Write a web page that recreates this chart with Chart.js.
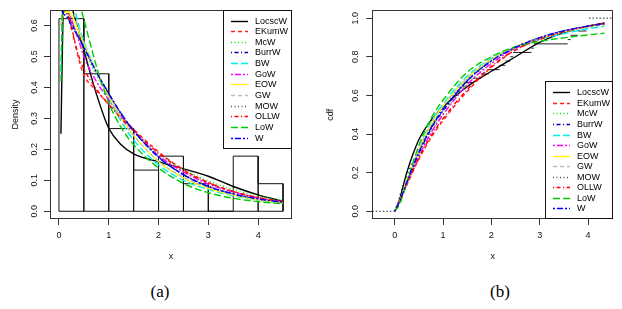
<!DOCTYPE html>
<html>
<head>
<meta charset="utf-8">
<script src="https://cdn.jsdelivr.net/npm/chart.js@4.4.0/dist/chart.umd.min.js"></script>
<style>
  body { margin: 0; background: #fff; }
  #wrap { position: relative; width: 622px; height: 309px; overflow: hidden; }
  canvas { position: absolute; top: 0; }
  #densityChart { left: 0; }
  #cdfChart { left: 310px; }
  .cap { position: absolute; top: 282px; width: 40px; text-align: center;
         font: 17px 'Liberation Serif', 'DejaVu Serif', serif; color: #000; }
</style>
</head>
<body>
<div id="wrap">
  <canvas id="densityChart" width="305" height="270"></canvas>
  <canvas id="cdfChart" width="312" height="270"></canvas>
  <div class="cap" style="left:140px">(a)</div>
  <div class="cap" style="left:480px">(b)</div>
</div>
<script>
// fitted models, in legend order
const models = ['LocscW', 'EKumW', 'McW', 'BurrW', 'BW', 'GoW', 'EOW', 'GW', 'MOW', 'OLLW', 'LoW', 'W'];

// histogram (density scale)
const histBreaks = [0, 0.5, 1, 1.5, 2, 2.5, 3, 3.5, 4, 4.5];
const histDensity = [0.622, 0.444, 0.267, 0.133, 0.178, 0.089, 0, 0.178, 0.089];

// fitted densities
const densX = [0.04, 0.08, 0.15, 0.25, 0.4, 0.5, 0.75, 1, 1.25, 1.5, 2, 2.5, 3, 3.5, 4, 4.5];
const densLocscW = [0.25, 0.62, 0.78, 0.67, 0.58, 0.52, 0.38, 0.268, 0.215, 0.185, 0.16, 0.137, 0.113, 0.08, 0.053, 0.032];
const densEKumW = [0.80, 0.75, 0.68, 0.60, 0.49, 0.44, 0.39, 0.345, 0.305, 0.265, 0.192, 0.135, 0.093, 0.064, 0.044, 0.030];
const densMcW = [0.75, 0.70, 0.66, 0.62, 0.56, 0.52, 0.44, 0.37, 0.31, 0.26, 0.185, 0.135, 0.098, 0.070, 0.050, 0.035];
const densBurrW = [0.70, 0.66, 0.64, 0.61, 0.56, 0.53, 0.45, 0.38, 0.315, 0.26, 0.175, 0.118, 0.080, 0.055, 0.039, 0.028];
const densBW = [0.45, 0.72, 0.75, 0.70, 0.60, 0.55, 0.45, 0.365, 0.29, 0.23, 0.15, 0.10, 0.070, 0.050, 0.036, 0.027];
const densGoW = [0.70, 0.68, 0.66, 0.62, 0.55, 0.50, 0.42, 0.36, 0.305, 0.26, 0.18, 0.127, 0.088, 0.062, 0.043, 0.030];
const densEOW = [0.60, 0.63, 0.645, 0.635, 0.58, 0.54, 0.45, 0.37, 0.30, 0.245, 0.16, 0.108, 0.074, 0.052, 0.037, 0.027];
const densGW = [0.60, 0.66, 0.68, 0.66, 0.59, 0.545, 0.45, 0.37, 0.30, 0.245, 0.162, 0.11, 0.077, 0.054, 0.038, 0.028];
const densMOW = [0.68, 0.66, 0.64, 0.61, 0.56, 0.53, 0.45, 0.38, 0.315, 0.26, 0.176, 0.12, 0.082, 0.057, 0.040, 0.028];
const densOLLW = [0.80, 0.74, 0.66, 0.59, 0.50, 0.46, 0.395, 0.345, 0.30, 0.26, 0.188, 0.132, 0.092, 0.064, 0.044, 0.031];
const densLoW = [0.42, 0.72, 0.80, 0.78, 0.68, 0.62, 0.47, 0.35, 0.27, 0.215, 0.14, 0.09, 0.060, 0.042, 0.031, 0.024];
const densW = [0.66, 0.64, 0.63, 0.60, 0.56, 0.53, 0.45, 0.38, 0.315, 0.26, 0.175, 0.118, 0.080, 0.056, 0.040, 0.029];

const obsX = [0.04, 0.06, 0.08, 0.10, 0.13, 0.16, 0.19, 0.22, 0.26, 0.29, 0.33, 0.38, 0.43, 0.47,
              0.52, 0.55, 0.60, 0.64, 0.69, 0.74, 0.80, 0.86, 0.91, 0.97,
              1.07, 1.15, 1.22, 1.30, 1.38, 1.46, 1.62, 1.78, 1.95,
              2.17, 2.29, 2.39, 2.45, 2.83, 2.88, 3.58, 3.64, 3.79, 3.97, 4.01, 4.02];

// fitted cdfs
const cdfX = [0, 0.1, 0.25, 0.5, 0.75, 1, 1.5, 2, 2.5, 3, 3.5, 4, 4.34];
const cdfLocscW = [0, 0.06, 0.20, 0.37, 0.47, 0.54, 0.645, 0.725, 0.80, 0.875, 0.925, 0.958, 0.975];
const cdfEKumW = [0, 0.05, 0.135, 0.27, 0.38, 0.47, 0.62, 0.745, 0.835, 0.89, 0.93, 0.958, 0.972];
const cdfMcW = [0, 0.05, 0.145, 0.29, 0.41, 0.505, 0.66, 0.77, 0.845, 0.895, 0.932, 0.957, 0.970];
const cdfBurrW = [0, 0.05, 0.15, 0.30, 0.425, 0.52, 0.675, 0.78, 0.85, 0.898, 0.934, 0.958, 0.971];
const cdfBW = [0, 0.04, 0.15, 0.32, 0.46, 0.555, 0.70, 0.79, 0.85, 0.89, 0.92, 0.945, 0.957];
const cdfGoW = [0, 0.05, 0.145, 0.285, 0.405, 0.50, 0.655, 0.765, 0.845, 0.895, 0.932, 0.957, 0.971];
const cdfEOW = [0, 0.05, 0.155, 0.315, 0.45, 0.545, 0.69, 0.785, 0.85, 0.895, 0.93, 0.955, 0.968];
const cdfGW = [0, 0.05, 0.155, 0.32, 0.455, 0.545, 0.69, 0.785, 0.85, 0.895, 0.93, 0.953, 0.965];
const cdfMOW = [0, 0.05, 0.15, 0.305, 0.435, 0.53, 0.68, 0.78, 0.85, 0.90, 0.935, 0.958, 0.972];
const cdfOLLW = [0, 0.05, 0.14, 0.275, 0.39, 0.48, 0.63, 0.75, 0.835, 0.89, 0.93, 0.958, 0.973];
const cdfLoW = [0, 0.035, 0.15, 0.34, 0.48, 0.575, 0.72, 0.80, 0.852, 0.88, 0.898, 0.913, 0.922];
const cdfW = [0, 0.05, 0.15, 0.305, 0.43, 0.525, 0.675, 0.778, 0.848, 0.898, 0.934, 0.958, 0.971];

// axis ticks
const xTicks = [0, 1, 2, 3, 4];
const densTicks = [0, 0.1, 0.2, 0.3, 0.4, 0.5, 0.6];
const cdfTicks = [0, 0.2, 0.4, 0.6, 0.8, 1];

// line styles (R col 1..12, lty 1..6 recycled)
const colors = ['#000000', '#ff2020', '#00ee00', '#0000b0', '#00f0f0', '#ff00ff',
                '#ffff00', '#bebebe', '#505050', '#ff0000', '#00cc00', '#0000ff'];
const dashes = [[], [4, 3], [1, 2.5], [1, 2.5, 4, 2.5], [7, 3], [2, 2, 6, 2],
                [], [4, 3], [1, 2.5], [1, 2.5, 4, 2.5], [7, 3], [2, 2, 6, 2]];

const densValues = [densLocscW, densEKumW, densMcW, densBurrW, densBW, densGoW,
                    densEOW, densGW, densMOW, densOLLW, densLoW, densW];
const cdfValues = [cdfLocscW, cdfEKumW, cdfMcW, cdfBurrW, cdfBW, cdfGoW,
                   cdfEOW, cdfGW, cdfMOW, cdfOLLW, cdfLoW, cdfW];

const FONT = "'Liberation Sans', Arial, sans-serif";

const curveSets = (xs, valueArrays) => models.map((name, i) => ({
    label: name,
    isModel: true,
    data: xs.map((x, j) => ({ x: x, y: valueArrays[i][j] })),
    borderColor: colors[i],
    borderDash: dashes[i],
    borderWidth: 1.4,
    pointRadius: 0,
    fill: false,
    cubicInterpolationMode: 'monotone',
    order: models.length - i
}));

// histogram outline built from breaks and heights
const histPath = [{ x: histBreaks[0], y: 0 }];
histDensity.forEach((h, i) => {
    histPath.push({ x: histBreaks[i], y: h }, { x: histBreaks[i + 1], y: h }, { x: histBreaks[i + 1], y: 0 });
});
histPath.push({ x: histBreaks[0], y: 0 });

// empirical cdf: horizontal steps only
const n = obsX.length;
const ecdfPath = [];
for (let i = 0; i < n - 1; i++) {
    const level = (i + 1) / n;
    ecdfPath.push({ x: obsX[i], y: level }, { x: obsX[i + 1], y: level }, { x: obsX[i + 1], y: null });
}
const cdfMin = -0.463, cdfMax = 4.523;
const ecdfTails = [{ x: cdfMin, y: 0 }, { x: obsX[0], y: 0 }, { x: obsX[0], y: null },
                   { x: obsX[n - 1], y: 1 }, { x: cdfMax, y: 1 }];

const framePlugin = {
    id: 'frame',
    afterDatasetsDraw(chart, args, opts) {
        const { ctx, chartArea: a } = chart;
        ctx.save();
        ctx.strokeStyle = '#333';
        ctx.lineWidth = 1;
        ctx.setLineDash([]);
        ctx.strokeRect(Math.round(a.left) + 0.5, Math.round(a.top) + 0.5,
                       Math.round(a.width) - 1, Math.round(a.height) - 1);

        const bx = Math.round(a.right - opts.width);
        const by = Math.round(opts.corner === 'top' ? a.top : a.bottom - opts.height);
        ctx.fillStyle = '#fff';
        ctx.fillRect(bx, by, opts.width, opts.height);
        ctx.strokeStyle = '#111';
        ctx.strokeRect(bx + 0.5, by + 0.5, opts.width - 1, opts.height - 1);

        ctx.font = '9px ' + FONT;
        ctx.textBaseline = 'middle';
        chart.data.datasets.filter(d => d.isModel).forEach((d, i) => {
            const y = Math.round(by + opts.first + i * opts.step) + 0.5;
            ctx.strokeStyle = d.borderColor;
            ctx.lineWidth = d.borderWidth;
            ctx.setLineDash(d.borderDash);
            ctx.beginPath();
            ctx.moveTo(bx + 8, y);
            ctx.lineTo(bx + 25, y);
            ctx.stroke();
            ctx.setLineDash([]);
            ctx.fillStyle = '#000';
            ctx.fillText(d.label, bx + 32, y);
        });
        ctx.restore();
    }
};

const axisStyle = (ticks, fmt, fitFn, title, titlePadding) => ({
    type: 'linear',
    afterBuildTicks: s => { s.ticks = ticks.map(v => ({ value: v })); },
    afterFit: fitFn,
    border: { display: false },
    grid: { drawOnChartArea: false, drawTicks: true, tickLength: 6, color: '#333' },
    ticks: { font: { family: FONT, size: 9 }, color: '#111', callback: fmt },
    title: { display: true, text: title, font: { family: FONT, size: 9 }, color: '#111', padding: titlePadding }
});

const densXAxis = axisStyle(xTicks, v => String(v), s => { s.height = 51; }, 'x', { top: 0, bottom: 8 });
densXAxis.min = -0.18; densXAxis.max = 4.68;
densXAxis.ticks.padding = 5;
const densYAxis = axisStyle(densTicks, v => v.toFixed(1), s => { s.width = 50; }, 'Density', { top: 10, bottom: 0 });
densYAxis.min = -0.025; densYAxis.max = 0.65;
Object.assign(densYAxis.ticks, { minRotation: 90, maxRotation: 90, crossAlign: 'center', padding: 3 });

new Chart(document.getElementById('densityChart'), {
    type: 'line',
    data: {
        datasets: [{
            label: 'hist',
            data: histPath,
            borderColor: '#111',
            borderWidth: 1,
            pointRadius: 0,
            tension: 0,
            fill: false,
            order: 100
        }].concat(curveSets(densX, densValues))
    },
    options: {
        responsive: false,
        animation: false,
        devicePixelRatio: 1,
        layout: { padding: { top: 10, right: 13, bottom: 0, left: 0 } },
        scales: { x: densXAxis, y: densYAxis },
        plugins: {
            legend: { display: false },
            tooltip: { enabled: false },
            frame: { corner: 'top', width: 69, height: 139, first: 10.5, step: 10.65 }
        }
    },
    plugins: [framePlugin]
});

const cdfXAxis = axisStyle(xTicks, v => String(v), s => { s.height = 51; }, 'x', { top: 0, bottom: 8 });
cdfXAxis.min = cdfMin; cdfXAxis.max = cdfMax;
cdfXAxis.ticks.padding = 5;
const cdfYAxis = axisStyle(cdfTicks, v => v.toFixed(1), s => { s.width = 62.3; }, 'cdf', { top: 15, bottom: 0 });
cdfYAxis.min = -0.04; cdfYAxis.max = 1.04;
Object.assign(cdfYAxis.ticks, { minRotation: 90, maxRotation: 90, crossAlign: 'center', padding: 5 });

new Chart(document.getElementById('cdfChart'), {
    type: 'line',
    data: {
        datasets: [{
            label: 'ecdf',
            data: ecdfPath,
            borderColor: '#222',
            borderWidth: 1,
            pointRadius: 0,
            spanGaps: false,
            fill: false,
            order: 100
        }, {
            label: 'ecdf tails',
            data: ecdfTails,
            borderColor: '#222',
            borderDash: [1.5, 2],
            borderWidth: 1,
            pointRadius: 0,
            spanGaps: false,
            fill: false,
            order: 101
        }].concat(curveSets(cdfX, cdfValues))
    },
    options: {
        responsive: false,
        animation: false,
        devicePixelRatio: 1,
        layout: { padding: { top: 10, right: 8.7, bottom: 0, left: 0 } },
        scales: { x: cdfXAxis, y: cdfYAxis },
        plugins: {
            legend: { display: false },
            tooltip: { enabled: false },
            frame: { corner: 'bottom', width: 68, height: 138, first: 11.3, step: 10.55 }
        }
    },
    plugins: [framePlugin]
});
</script>
</body>
</html>
